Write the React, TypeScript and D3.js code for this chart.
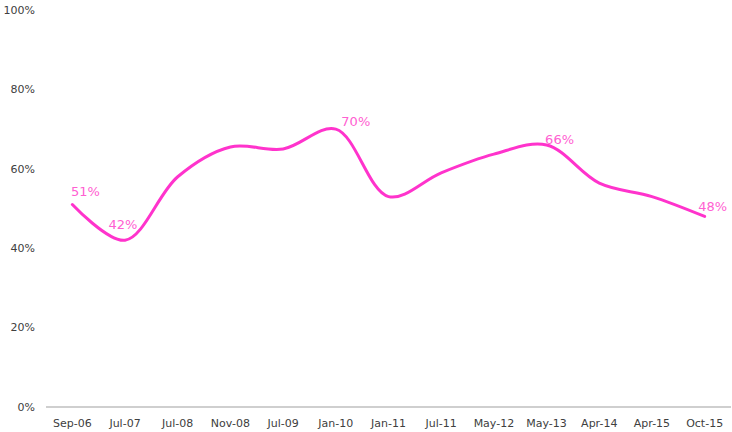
import React from "react";
import * as d3 from "d3";

const categories = ["Sep-06", "Jul-07", "Jul-08", "Nov-08", "Jul-09", "Jan-10", "Jan-11", "Jul-11", "May-12", "May-13", "Apr-14", "Apr-15", "Oct-15"];
const values = [0.51, 0.42, 0.58, 0.655, 0.65, 0.70, 0.53, 0.59, 0.637, 0.66, 0.564, 0.53, 0.48];
const labeled = ["Sep-06", "Jul-07", "Jan-10", "May-13", "Oct-15"];
const yTicks = [0, 0.2, 0.4, 0.6, 0.8, 1.0];

// label placement offsets (style)
const labelOffsets: Record<string, [number, number]> = {
  "Sep-06": [13, -9],
  "Jul-07": [-2, -11],
  "Jan-10": [20, -3],
  "May-13": [13, -1],
  "Oct-15": [8, -5],
};

const W = 732, H = 432;
const left = 46, right = 731, top = 10, bottom = 407;

export default function App() {
  const x = d3.scaleBand<string>().domain(categories).range([left, right]);
  const y = d3.scaleLinear().domain([0, 1]).range([bottom, top]);
  const cx = (c: string) => (x(c) as number) + x.bandwidth() / 2;
  const pts: [number, number][] = categories.map((c, i) => [cx(c), y(values[i])]);
  const line = d3.line().curve(d3.curveCatmullRom.alpha(0.5))(pts) as string;
  const fmt = d3.format(".0%");
  return (
    <svg width={W} height={H} style={{ position: "absolute", left: 0, top: 0, background: "#fff" }} fontFamily="'DejaVu Sans', Verdana, sans-serif">
      {yTicks.map((t) => (
        <text key={t} x={35} y={y(t)} dy="0.35em" textAnchor="end" fontSize={11} fill="#404040">{fmt(t)}</text>
      ))}
      <line x1={left} x2={right} y1={bottom} y2={bottom} stroke="#bfbfbf" strokeWidth={1.5} />
      {categories.map((c) => (
        <text key={c} x={cx(c)} y={423} dy="0.35em" textAnchor="middle" fontSize={11} fill="#404040">{c}</text>
      ))}
      <path d={line} fill="none" stroke="#ff33cc" strokeWidth={3} strokeLinecap="round" />
      {categories.map((c, i) => labeled.includes(c) ? (
        <text key={c} x={cx(c) + labelOffsets[c][0]} y={y(values[i]) + labelOffsets[c][1]} textAnchor="middle" fontSize={13} fill="#ff5fd2">{fmt(values[i])}</text>
      ) : null)}
    </svg>
  );
}
